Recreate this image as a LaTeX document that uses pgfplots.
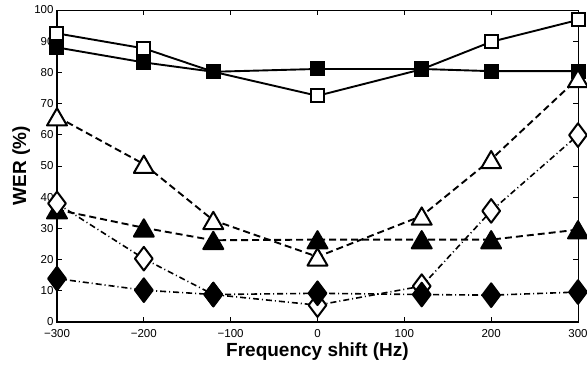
\documentclass[border=0pt]{standalone}
\usepackage{fontspec}
\setmainfont{Liberation Sans}
\usepackage{pgfplots}
\pgfplotsset{compat=1.18}
\begin{document}
\begin{tikzpicture}
\useasboundingbox (-57pt,-43pt) rectangle (530pt,322pt);
\begin{axis}[
  scale only axis,
  width=521pt, height=312pt,
  xmin=-300, xmax=300, ymin=0, ymax=100,
  xtick={-300,-200,-100,0,100,200,300},
  xticklabels={−300,−200,−100,0,100,200,300},
  ytick={0,10,...,100},
  tick align=inside,
  major tick length=5pt,
  axis line style={line width=1pt},
  every tick/.style={black, line width=0.8pt},
  tick label style={font=\fontsize{11.5}{13}\selectfont},
  /pgf/number format/assume math mode=true,
  xticklabel style={yshift=-4pt},
  xlabel={Frequency shift (Hz)},
  ylabel={WER (\%)},
  label style={font=\fontsize{19}{22}\selectfont\bfseries},
  xlabel style={at={(axis description cs:0.5,-0.109)}, anchor=base},
  ylabel style={at={(axis description cs:-0.0595,0.5)}, anchor=base, rotate=0},
  clip=false,
]
\draw[line width=2pt] (axis cs:-300,100) -- (axis cs:-300,0) -- (axis cs:300,0);
% open squares
\addplot[black, line width=1.9pt, mark=square*, mark size=6.5pt,
  mark options={solid, fill=white, line width=2pt, line join=miter}]
  coordinates {(-300,92.5) (-200,87.7) (-120,80.2) (0,72.5) (120,81) (200,89.8) (300,96.8)};
% filled squares
\addplot[black, line width=1.9pt, mark=square*, mark size=6.5pt,
  mark options={solid, fill=black, line width=2pt}]
  coordinates {(-300,88) (-200,83.2) (-120,80.2) (0,81.1) (120,81.1) (200,80.4) (300,80.4)};
% open triangles
\addplot[black, line width=1.9pt, dash pattern=on 7pt off 4pt, mark=triangle*, mark size=11.5pt,
  mark options={solid, fill=white, line width=2pt, line join=round, yshift=-3pt}]
  coordinates {(-300,65.8) (-200,50.6) (-120,32.6) (0,20.9) (120,34) (200,52.1) (300,78.1)};
% filled triangles
\addplot[black, line width=1.9pt, dash pattern=on 7pt off 4pt, mark=triangle*, mark size=11.5pt,
  mark options={solid, fill=black, line width=2pt, line join=round, yshift=-3pt}]
  coordinates {(-300,36) (-200,30.2) (-120,26.2) (0,26.4) (120,26.4) (200,26.4) (300,29.6)};
% open diamonds
\addplot[black, line width=1.6pt, dash pattern=on 6pt off 3pt on 1pt off 3pt, mark=diamond*, mark size=11.8pt,
  mark options={solid, fill=white, line width=2pt, line join=round}]
  coordinates {(-300,38) (-200,20.3) (-120,8.8) (0,5.4) (120,11.5) (200,35.6) (300,59.9)};
% filled diamonds
\addplot[black, line width=1.6pt, dash pattern=on 6pt off 3pt on 1pt off 3pt, mark=diamond*, mark size=11.8pt,
  mark options={solid, fill=black, line width=2pt, line join=round}]
  coordinates {(-300,13.9) (-200,10.2) (-120,8.8) (0,9.2) (120,8.8) (200,8.6) (300,9.6)};
\end{axis}
\end{tikzpicture}
\end{document}
